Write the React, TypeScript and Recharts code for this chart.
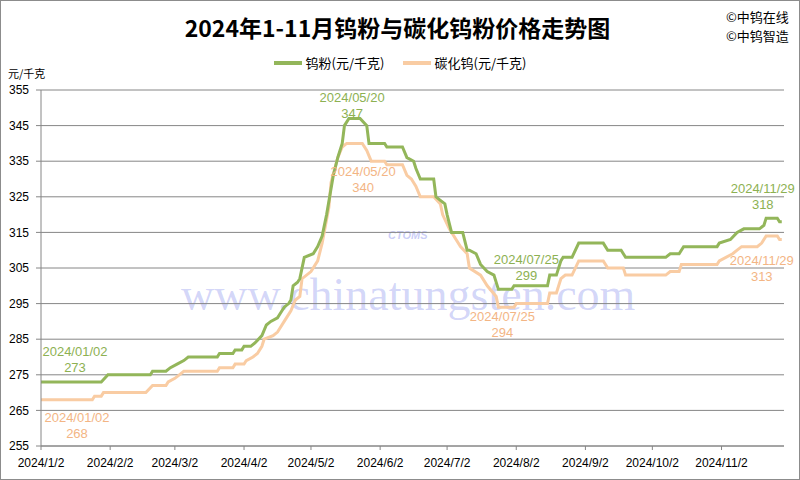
import React from "react";
import { LineChart, Line, XAxis, YAxis, CartesianGrid } from "recharts";

// days counted from 2024/1/2
const xTickDays = [0, 31, 60, 91, 121, 152, 182, 213, 244, 274, 305];
const xTickLabels = [
  "2024/1/2", "2024/2/2", "2024/3/2", "2024/4/2", "2024/5/2", "2024/6/2",
  "2024/7/2", "2024/8/2", "2024/9/2", "2024/10/2", "2024/11/2",
];
const yTicks = [255, 265, 275, 285, 295, 305, 315, 325, 335, 345, 355];

const powderDays = [
  0, 27, 30, 49, 50, 56, 58, 61, 64, 66, 79, 80, 86, 87, 90, 91, 94, 96, 99,
  101, 103, 106, 107, 109, 111, 112, 113, 115, 116, 118, 122, 124, 126, 128,
  131, 133, 134, 135, 136, 138, 139, 143, 146, 147, 154, 155, 162, 164, 167,
  168, 170, 176, 177, 179, 181, 182, 184, 189, 191, 192, 195, 197, 200, 203,
  205, 211, 212, 227, 228, 231, 233, 234, 238, 241, 252, 254, 260, 262, 280,
  282, 286, 288, 303, 304, 309, 312, 315, 322, 324, 325, 330, 331, 332,
];
const powderPrices = [
  273, 273, 275, 275, 276, 276, 277, 278, 279, 280, 280, 281, 281, 282, 282,
  283, 283, 284, 286, 289, 290, 291, 292, 294, 295, 296, 300, 301, 302, 308,
  309, 311, 314, 320, 331, 336, 338, 340, 345, 347, 347, 347, 345, 340, 340,
  339, 339, 336, 335, 333, 330, 330, 325, 324, 323, 320, 315, 315, 310, 310,
  309, 306, 304, 303, 299, 299, 300, 300, 303, 303, 307, 308, 308, 312, 312,
  310, 310, 308, 308, 309, 309, 311, 311, 312, 313, 315, 316, 316, 317, 319,
  319, 318, 318,
];

const carbideDays = [
  0, 23, 24, 27, 28, 47, 50, 56, 57, 60, 62, 64, 79, 80, 86, 87, 91, 92, 95,
  97, 99, 100, 104, 106, 107, 109, 110, 112, 114, 116, 117, 121, 124, 126,
  129, 130, 133, 135, 137, 139, 144, 146, 148, 154, 155, 162, 164, 166, 168,
  170, 176, 179, 180, 183, 188, 191, 192, 197, 200, 204, 205, 212, 213, 227,
  228, 231, 233, 235, 238, 241, 252, 254, 261, 262, 280, 282, 286, 287, 303,
  304, 310, 312, 314, 321, 323, 325, 330, 331, 332,
];
const carbidePrices = [
  268, 268, 269, 269, 270, 270, 272, 272, 273, 274, 275, 276, 276, 277, 277,
  278, 278, 279, 280, 281, 283, 285, 286, 287, 288, 290, 291, 293, 296, 297,
  302, 304, 307, 312, 322, 329, 336, 339, 340, 340, 340, 338, 335, 335, 334,
  334, 331, 330, 328, 325, 325, 323, 320, 316, 311, 309, 305, 303, 300, 297,
  294, 294, 295, 295, 298, 298, 302, 303, 303, 307, 307, 305, 305, 303, 303,
  304, 304, 306, 306, 307, 309, 310, 311, 311, 312, 314, 314, 313, 313,
];

const labelDays = [0, 139, 205, 332];
const labelDates = ["2024/01/02", "2024/05/20", "2024/07/25", "2024/11/29"];

const powderData = powderDays.map((day, i) => ({ day, price: powderPrices[i] }));
const carbideData = carbideDays.map((day, i) => ({ day, price: carbidePrices[i] }));

const GREEN = "#93b65a";
const PEACH = "#f9cca3";
const GREEN_TEXT = "#8db152";
const PEACH_TEXT = "#f3b584";
const GRID = "#868686";
const FONT = '"Liberation Sans", "Noto Sans CJK SC", sans-serif';
const CJK = '"Noto Sans CJK SC", "Liberation Sans", sans-serif';

const greenOffsets = [[34, -30], [1, -21], [28, -30], [-19, -33]];
const peachOffsets = [[36, 18], [12, 28], [4, 9], [-20, 21]];

function makeLabel(data: { day: number }[], offsets: number[][], color: string) {
  return (props: any) => {
    const { x, y, index, value } = props;
    const k = labelDays.indexOf(data[index]?.day);
    if (k < 0) return null;
    const [dx, dy] = offsets[k];
    return (
      <g key={`lbl-${index}`}>
        <text x={x + dx} y={y + dy} fill={color} fontSize={13} textAnchor="middle" dominantBaseline="central" fontFamily={FONT}>
          {labelDates[k]}
        </text>
        <text x={x + dx} y={y + dy + 16} fill={color} fontSize={13} textAnchor="middle" dominantBaseline="central" fontFamily={FONT}>
          {value}
        </text>
      </g>
    );
  };
}

export default function App() {
  return (
    <div style={{ position: "absolute", left: 0, top: 0, width: 800, height: 480, background: "#fff", overflow: "hidden" }}>
      {/* watermark */}
      <div style={{ position: "absolute", left: 181, top: 268, fontFamily: '"Liberation Serif", serif', fontSize: 46, color: "rgba(120,128,235,0.32)", whiteSpace: "nowrap" }}>
        www.chinatungsten.com
      </div>
      <div style={{ position: "absolute", left: 388, top: 229, fontFamily: FONT, fontSize: 11, fontWeight: 700, fontStyle: "italic", color: "rgba(120,128,235,0.4)" }}>
        CTOMS
      </div>

      <div style={{ position: "absolute", left: 175, top: 12, width: 445, textAlign: "center", fontFamily: CJK, fontSize: 23, fontWeight: 700, color: "#000", lineHeight: "30px", whiteSpace: "nowrap" }}>
        2024年1-11月钨粉与碳化钨粉价格走势图
      </div>
      <div style={{ position: "absolute", left: 726, top: 7, fontFamily: CJK, fontSize: 13, lineHeight: "19px", color: "#000" }}>
        <div>©中钨在线</div>
        <div>©中钨智造</div>
      </div>

      <div style={{ position: "absolute", left: 0, top: 53, width: 800, display: "flex", justifyContent: "center", alignItems: "center", fontFamily: CJK, fontSize: 13, color: "#000" }}>
        <span style={{ display: "inline-block", width: 28, height: 4, background: GREEN, marginRight: 4 }} />
        <span style={{ marginRight: 18 }}>钨粉(元/千克)</span>
        <span style={{ display: "inline-block", width: 28, height: 4, background: PEACH, marginRight: 4 }} />
        <span>碳化钨(元/千克)</span>
      </div>

      <div style={{ position: "absolute", left: 8, top: 65, fontFamily: CJK, fontSize: 11, color: "#000" }}>元/千克</div>

      <div style={{ position: "absolute", left: 0, top: 0 }}>
        <LineChart width={800} height={480} margin={{ top: 90, right: 16, bottom: 4, left: 0 }} style={{ fontFamily: FONT }}>
          <CartesianGrid vertical={false} stroke={GRID} />
          <XAxis
            type="number"
            dataKey="day"
            domain={[0, 333]}
            ticks={xTickDays}
            tickFormatter={(v: number) => xTickLabels[xTickDays.indexOf(v)] ?? ""}
            allowDataOverflow
            height={30}
            stroke={GRID}
            tickSize={4}
            tickMargin={8}
            tick={{ fill: "#000", fontSize: 12 }}
          />
          <YAxis
            domain={[255, 355]}
            ticks={yTicks}
            width={41}
            stroke={GRID}
            tickSize={5}
            tickMargin={7}
            tick={{ fill: "#000", fontSize: 12 }}
            allowDataOverflow
          />
          <Line
            data={carbideData}
            dataKey="price"
            type="linear"
            stroke={PEACH}
            strokeWidth={3}
            dot={false}
            isAnimationActive={false}
            label={makeLabel(carbideData, peachOffsets, PEACH_TEXT)}
          />
          <Line
            data={powderData}
            dataKey="price"
            type="linear"
            stroke={GREEN}
            strokeWidth={3}
            dot={false}
            isAnimationActive={false}
            label={makeLabel(powderData, greenOffsets, GREEN_TEXT)}
          />
        </LineChart>
      </div>
      <div style={{ position: "absolute", left: 0, top: 0, width: 800, height: 480, boxSizing: "border-box", border: "1px solid #8c8c8c", pointerEvents: "none" }} />
    </div>
  );
}
